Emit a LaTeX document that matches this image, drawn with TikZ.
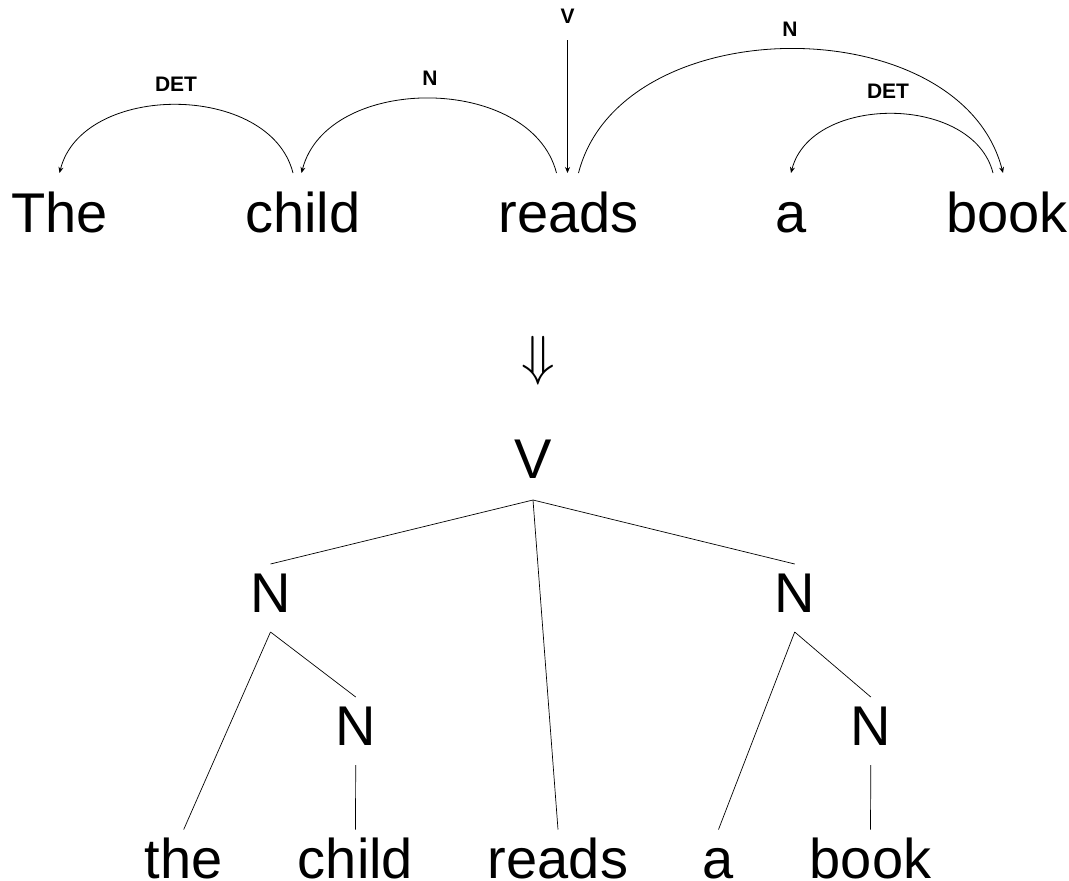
\documentclass[tikz,border=0pt]{standalone}
\usepackage{graphicx}
\usepackage{fontspec}
\setmainfont{Liberation Sans}
\usetikzlibrary{arrows.meta}
\begin{document}
\begin{tikzpicture}[x=1pt,y=-1pt,
  word/.style={inner sep=0pt, outer sep=0pt, anchor=base, font=\fontsize{56}{60}\selectfont},
  topword/.style={word, text height=59pt, text depth=0pt},
  leaf/.style={word, text height=49pt, text depth=0pt},
  cat/.style={word, text height=48pt, text depth=20pt},
  rel/.style={font=\bfseries\fontsize{21}{24}\selectfont, inner sep=0pt},
  dep/.style={line width=0.8pt, -{Stealth[length=6pt,width=5pt]}},
  branch/.style={line width=0.7pt}]
\useasboundingbox (0,0) rectangle (1069,881);

% dependency structure
\node[topword] (w1) at (59.5,232) {The};
\node[topword] (w2) at (303,232) {child};
\node[topword] (w3) at (568.5,232) {reads};
\node[topword] (w4) at (791,232) {a};
\node[topword] (w5) at (1007,232) {book};

\draw[dep] ([xshift=-10pt]w2.north) .. controls +(-23,-91) and +(23,-91) .. (w1.north);
\draw[dep] ([xshift=-12pt]w3.north) .. controls +(-25.5,-99.5) and +(25.5,-99.5) .. ([xshift=-1.5pt]w2.north);
\draw[dep] ([xshift=10pt]w3.north) .. controls +(42.5,-165.5) and +(-42.5,-165.5) .. ([xshift=-4pt]w5.north);
\draw[dep] ([xshift=-14pt]w5.north) .. controls +(-20,-79) and +(20,-79) .. (w4.north);
\coordinate (root) at (567.5,40);
\draw[dep] (root) -- ([xshift=-1pt]w3.north);

\node[rel] (l1) at (176,84) {DET};
\node[rel] (l2) at (430,78) {N};
\node[rel] (l3) at (567.5,16.7) {V};
\node[rel] (l4) at (790,29) {N};
\node[rel] (l5) at (888,91.7) {DET};

\node[inner sep=0pt] (impl) at (538.3,361) {\scalebox{5.5}{$\Downarrow$}};

% constituency tree
\node[cat, text depth=21.7pt] (v) at (533,478.3) {V};
\node[cat] (n1) at (270.5,612) {N};
\node[cat] (n2) at (794.7,612) {N};
\node[cat] (n3) at (355.7,745) {N};
\node[cat] (n4) at (870.8,745) {N};

\node[leaf] (b1) at (183.7,878.5) {the};
\node[leaf] (b2) at (355.5,878.5) {child};
\node[leaf] (b3) at (558,878.5) {reads};
\node[leaf] (b4) at (718.5,878.5) {a};
\node[leaf] (b5) at (870.5,878.5) {book};

\draw[branch] (v.south) -- (n1.north);
\draw[branch] (v.south) -- (b3.north);
\draw[branch] (v.south) -- (n2.north);
\draw[branch] (n1.south) -- (b1.north);
\draw[branch] (n1.south) -- (n3.north);
\draw[branch] (n3.south) -- (b2.north);
\draw[branch] (n2.south) -- (b4.north);
\draw[branch] (n2.south) -- (n4.north);
\draw[branch] (n4.south) -- (b5.north);
\end{tikzpicture}
\end{document}
